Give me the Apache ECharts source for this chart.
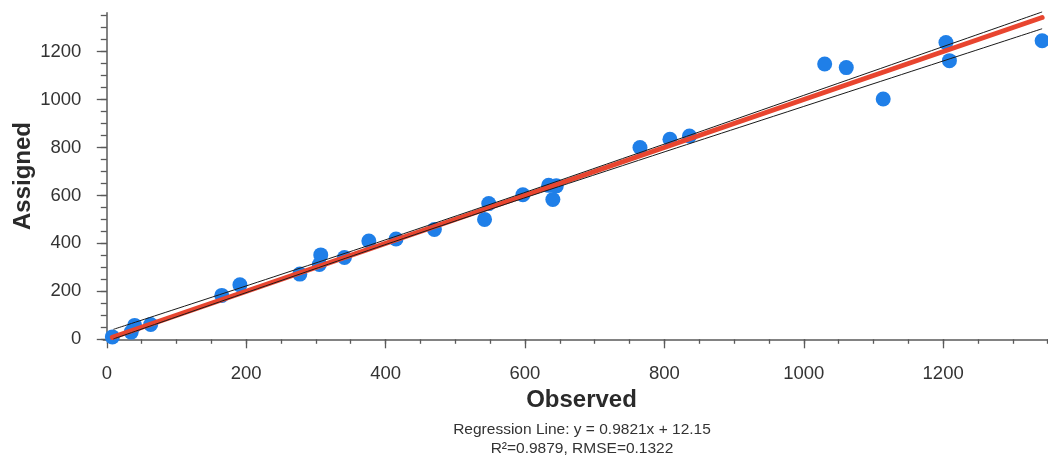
<!DOCTYPE html>
<html>
<head>
<meta charset="utf-8">
<script src="https://cdn.jsdelivr.net/npm/echarts@6/dist/echarts.min.js"></script>
<style>html,body{margin:0;padding:0;background:#fff}#c{width:1048px;height:457px}</style>
</head>
<body>
<div id="c"></div>
<script>
// Observed (x) / Assigned (y) points
const observed = [8, 35, 40, 63, 165, 191, 277, 305, 307, 341, 376, 415, 470, 542, 548, 597, 634, 645, 640, 765, 808, 836, 1030, 1061, 1114, 1204, 1209, 1342];
const assigned = [10, 30, 58, 62, 183, 227, 272, 312, 352, 341, 410, 418, 458, 500, 566, 603, 642, 640, 583, 800, 834, 848, 1148, 1133, 1002, 1238, 1162, 1245];

// 1:1 reference line (red)
const oneToOneX = [8, 1342];
// regression band edges (black lines), read at a few x positions
const bandX = [9.5, 250, 480, 740, 1000, 1342];
const bandUpper = [41.5, 270.5, 493.6, 753.6, 1017.4, 1365.1];
const bandLower = [1.5, 244.9, 473.6, 724.2, 971.1, 1295.1];

const xMajor = [0, 200, 400, 600, 800, 1000, 1200];
const xMinor = [0, 50, 100, 150, 200, 250, 300, 350, 400, 450, 500, 550, 600, 650, 700, 750, 800, 850, 900, 950, 1000, 1050, 1100, 1150, 1200, 1250, 1300, 1350];
const yMajor = [0, 200, 400, 600, 800, 1000, 1200];
const yMinor = [0, 50, 100, 150, 200, 250, 300, 350, 400, 450, 500, 550, 600, 650, 700, 750, 800, 850, 900, 950, 1000, 1050, 1100, 1150, 1200, 1250, 1300, 1350];

const regressionText = 'Regression Line: y = 0.9821x + 12.15';
const statsText = 'R\u00b2=0.9879, RMSE=0.1322';

const FONT = '"Liberation Sans", Arial, sans-serif';
const AXIS_COLOR = '#5a5a5a';

const chart = echarts.init(document.getElementById('c'), null, {renderer: 'canvas'});

const points = observed.map((x, i) => [x, assigned[i]]);
const upper = bandX.map((x, i) => [x, bandUpper[i]]);
const lower = bandX.map((x, i) => [x, bandLower[i]]);
const oneToOne = oneToOneX.map(x => [x, x]);

const XMIN = -5, XMAX = 1350, YMIN = 0, YMAX = 1362;
const plain = v => String(v);

chart.setOption({
  animation: false,
  backgroundColor: '#fff',
  grid: {left: 103.3, right: 0.3, top: 12.7, bottom: 117.7, containLabel: false, outerBoundsMode: 'none'},
  xAxis: [{
    type: 'value', min: XMIN, max: XMAX, position: 'bottom', offset: 11,
    name: 'Observed', nameLocation: 'middle', nameGap: 38, nameMoveOverlap: false,
    nameTextStyle: {fontFamily: FONT, fontSize: 24, fontWeight: 'bold', color: '#2a2a2a', padding: [0, 0, 0, 12]},
    axisLine: {show: true, lineStyle: {color: AXIS_COLOR, width: 1.5}},
    axisTick: {show: true, length: 9, customValues: xMajor, lineStyle: {color: AXIS_COLOR, width: 1.3}},
    axisLabel: {show: true, customValues: xMajor, formatter: plain, margin: 14, fontFamily: FONT, fontSize: 18.5, color: '#333'},
    splitLine: {show: false}
  }, {
    type: 'value', min: XMIN, max: XMAX, position: 'bottom', offset: 11,
    axisLine: {show: false},
    axisTick: {show: true, length: 4.5, customValues: xMinor, lineStyle: {color: AXIS_COLOR, width: 1.3}},
    axisLabel: {show: false},
    splitLine: {show: false}
  }],
  yAxis: [{
    type: 'value', min: YMIN, max: YMAX, position: 'left', offset: 7,
    name: 'Assigned', nameLocation: 'middle', nameGap: 61, nameMoveOverlap: false,
    nameTextStyle: {fontFamily: FONT, fontSize: 24, fontWeight: 'bold', color: '#2a2a2a'},
    axisLine: {show: true, lineStyle: {color: AXIS_COLOR, width: 1.5}},
    axisTick: {show: true, length: 10, customValues: yMajor, lineStyle: {color: AXIS_COLOR, width: 1.3}},
    axisLabel: {show: true, customValues: yMajor, formatter: plain, margin: 15, fontFamily: FONT, fontSize: 18.5, color: '#333'},
    splitLine: {show: false}
  }, {
    type: 'value', min: YMIN, max: YMAX, position: 'left', offset: 7,
    axisLine: {show: false},
    axisTick: {show: true, length: 6, customValues: yMinor, lineStyle: {color: AXIS_COLOR, width: 1.3}},
    axisLabel: {show: false},
    splitLine: {show: false}
  }],
  series: [{
    type: 'scatter', xAxisIndex: 0, yAxisIndex: 0, data: points,
    symbol: 'circle', symbolSize: 15, clip: false, z: 2,
    itemStyle: {color: '#1f7fe8', opacity: 1}
  }, {
    type: 'line', xAxisIndex: 0, yAxisIndex: 0, data: oneToOne,
    showSymbol: false, symbol: 'none', clip: false, z: 3,
    lineStyle: {color: '#e8452f', width: 5, cap: 'round'}
  }, {
    type: 'line', xAxisIndex: 0, yAxisIndex: 0, data: upper, smooth: true,
    showSymbol: false, symbol: 'none', clip: false, z: 4,
    lineStyle: {color: '#1a1a1a', width: 1}
  }, {
    type: 'line', xAxisIndex: 0, yAxisIndex: 0, data: lower, smooth: true,
    showSymbol: false, symbol: 'none', clip: false, z: 4,
    lineStyle: {color: '#1a1a1a', width: 1}
  }],
  graphic: [{
    type: 'text', x: 582, y: 422,
    style: {text: regressionText, font: '15.5px ' + FONT, fill: '#333', align: 'center', textAlign: 'center'}
  }, {
    type: 'text', x: 582, y: 441,
    style: {text: statsText, font: '15.5px ' + FONT, fill: '#333', align: 'center', textAlign: 'center'}
  }]
});
</script>
</body>
</html>
